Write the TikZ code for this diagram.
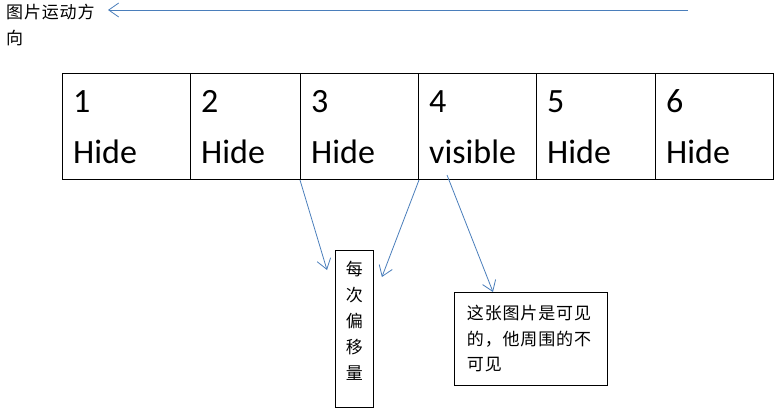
\documentclass[tikz,border=0pt]{standalone}
\usepackage{fontspec}
\setmainfont{Carlito}
\newfontfamily\cjk[LetterSpace=5]{Noto Sans CJK SC}
\usepackage{xcolor}
\usepackage{tikz}
\definecolor{arrowblue}{RGB}{74, 126, 187}
\usetikzlibrary{arrows.meta, positioning, calc}

\begin{document}
\begin{tikzpicture}[x=1pt, y=-1pt,
    cell/.style={draw, line width=1pt, anchor=north west, inner sep=0pt, minimum height=106pt},
    celltxt/.style={anchor=base west, inner sep=0pt, font=\fontsize{34}{40}\selectfont},
    note/.style={draw, line width=0.9pt, anchor=north west, font=\cjk\fontsize{17}{26}\selectfont},
    arr/.style={draw=arrowblue, line width=0.8pt, -{Straight Barb[length=10pt, width=14pt]}}]
    \useasboundingbox (0,0) rectangle (779,420);

    % direction title and arrow
    \node[anchor=north west, align=left, inner sep=0pt, font=\cjk\fontsize{17}{26}\selectfont] (title) at (6,4) {图片运动方\\向};
    \coordinate (tail) at (688,10);
    \coordinate (tip) at (108,10);
    \draw[arr] (tail) -- (tip);

    % the row of pictures
    \foreach \i/\x/\w/\t in {1/62/128/Hide, 2/190/110/Hide, 3/300/118/Hide,
                             4/418/118/visible, 5/536/119/Hide, 6/655/118/Hide} {
        \node[cell, minimum width=\w] (cell\i) at (\x,73) {};
        \node[celltxt] (num\i) at (\x+11,112) {\i};
        \node[celltxt] (word\i) at (\x+11,163) {\t};
    }

    % notes
    \node[note, minimum width=38pt, minimum height=157pt, align=center, inner sep=0pt,
          text depth=18pt] (offset) at (335,250) {每\\次\\偏\\移\\量};
    \node[note, minimum height=93pt, text width=128pt, inner xsep=12.5pt, align=left,
          font=\cjk\fontsize{17}{25.5}\selectfont] (visnote) at (454,292) {这张图片是可见\\的，他周围的不\\可见};

    \coordinate (vis) at (447,175);
    \draw[arr] (cell3.south west) -- ($(offset.north west)+(-8,20)$);
    \draw[arr] (cell3.south east) -- ($(offset.north east)+(8,27)$);
    \draw[arr] (vis) -- ($(visnote.north west)+(39,0)$);
\end{tikzpicture}
\end{document}
